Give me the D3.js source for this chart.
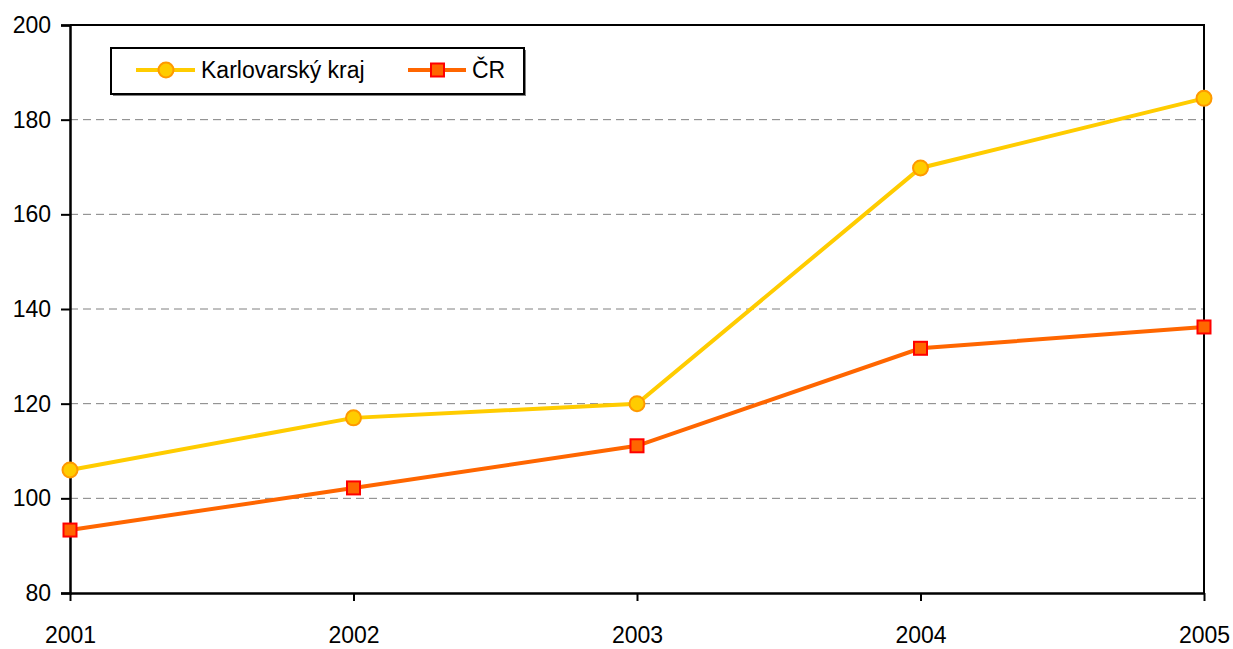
<!DOCTYPE html>
<html>
<head>
<meta charset="utf-8">
<script src="https://cdn.jsdelivr.net/npm/d3@7"></script>
<style>
  body { margin: 0; background: #fff; }
  svg text { font-family: "Liberation Sans Narrow", "Arial Narrow", "Liberation Sans", sans-serif; }
</style>
</head>
<body>
<div id="chart"></div>
<script>
// Data
const years = ['2001', '2002', '2003', '2004', '2005'];
const karlovarsky = [106, 117, 120, 169.8, 184.5];
const cr = [93.3, 102.2, 111.1, 131.7, 136.2];
const yTicks = [80, 100, 120, 140, 160, 180, 200];
const seriesNames = ['Karlovarský kraj', 'ČR'];

const W = 1233, H = 649;
const m = { left: 70, right: 29, top: 25, bottom: 56 };
const fontSize = 23;

const svg = d3.select('#chart').append('svg')
  .attr('width', W)
  .attr('height', H);

const x = d3.scalePoint()
  .domain(years)
  .range([m.left, W - m.right]);

const y = d3.scaleLinear()
  .domain([80, 200])
  .range([H - m.bottom, m.top]);

// Dashed gridlines
svg.append('g')
  .selectAll('line')
  .data(yTicks.filter(d => d > 80 && d < 200))
  .join('line')
  .attr('x1', m.left)
  .attr('x2', W - m.right)
  .attr('y1', d => y(d))
  .attr('y2', d => y(d))
  .attr('stroke', '#808080')
  .attr('stroke-width', 1)
  .attr('stroke-dasharray', '8,5');

// Top and right frame
svg.append('path')
  .attr('d', `M${m.left},${y(200)}H${W - m.right}V${y(80)}`)
  .attr('fill', 'none')
  .attr('stroke', '#000')
  .attr('stroke-width', 2);

// Y axis
const yAxis = svg.append('g')
  .attr('transform', `translate(${m.left},0)`)
  .call(d3.axisLeft(y).tickValues(yTicks).tickSize(9).tickPadding(10));
yAxis.select('.domain').attr('stroke-width', 2.5);
yAxis.selectAll('.tick line').attr('stroke-width', 2);
yAxis.selectAll('text').attr('font-size', fontSize).attr('fill', '#000');

// X axis
const xAxis = svg.append('g')
  .attr('transform', `translate(0,${y(80)})`)
  .call(d3.axisBottom(x).tickSize(8).tickPadding(26).tickSizeOuter(0));
xAxis.select('.domain').attr('stroke-width', 2.5);
xAxis.selectAll('.tick line').attr('stroke-width', 2);
xAxis.selectAll('text').attr('font-size', fontSize).attr('fill', '#000');

const line = d3.line()
  .x((d, i) => x(years[i]))
  .y(d => y(d));

// Karlovarský kraj
svg.append('path')
  .datum(karlovarsky)
  .attr('d', line)
  .attr('fill', 'none')
  .attr('stroke', '#FFCC00')
  .attr('stroke-width', 4);

svg.append('g')
  .selectAll('circle')
  .data(karlovarsky)
  .join('circle')
  .attr('cx', (d, i) => x(years[i]))
  .attr('cy', d => y(d))
  .attr('r', 7.5)
  .attr('fill', '#FFCC00')
  .attr('stroke', '#FF9900')
  .attr('stroke-width', 2);

// ČR
svg.append('path')
  .datum(cr)
  .attr('d', line)
  .attr('fill', 'none')
  .attr('stroke', '#FF6600')
  .attr('stroke-width', 4);

svg.append('g')
  .selectAll('rect')
  .data(cr)
  .join('rect')
  .attr('x', (d, i) => x(years[i]) - 6.5)
  .attr('y', d => y(d) - 6.5)
  .attr('width', 13)
  .attr('height', 13)
  .attr('fill', '#FF6600')
  .attr('stroke', '#FF0000')
  .attr('stroke-width', 2);

// Legend
const lg = svg.append('g');
lg.append('rect')
  .attr('x', 113).attr('y', 50)
  .attr('width', 413).attr('height', 46)
  .attr('fill', '#808080');
lg.append('rect')
  .attr('x', 111).attr('y', 48)
  .attr('width', 413).attr('height', 46)
  .attr('fill', '#fff')
  .attr('stroke', '#000')
  .attr('stroke-width', 2);

const ly = 70;
lg.append('line')
  .attr('x1', 136).attr('x2', 195).attr('y1', ly).attr('y2', ly)
  .attr('stroke', '#FFCC00').attr('stroke-width', 4);
lg.append('circle')
  .attr('cx', 166).attr('cy', ly).attr('r', 7.5)
  .attr('fill', '#FFCC00').attr('stroke', '#FF9900').attr('stroke-width', 2);
lg.append('text')
  .attr('x', 201).attr('y', ly + 8)
  .attr('font-size', fontSize)
  .text(seriesNames[0]);

lg.append('line')
  .attr('x1', 408).attr('x2', 466).attr('y1', ly).attr('y2', ly)
  .attr('stroke', '#FF6600').attr('stroke-width', 4);
lg.append('rect')
  .attr('x', 431).attr('y', ly - 6.5).attr('width', 13).attr('height', 13)
  .attr('fill', '#FF6600').attr('stroke', '#FF0000').attr('stroke-width', 2);
lg.append('text')
  .attr('x', 472).attr('y', ly + 8)
  .attr('font-size', fontSize)
  .text(seriesNames[1]);
</script>
</body>
</html>
